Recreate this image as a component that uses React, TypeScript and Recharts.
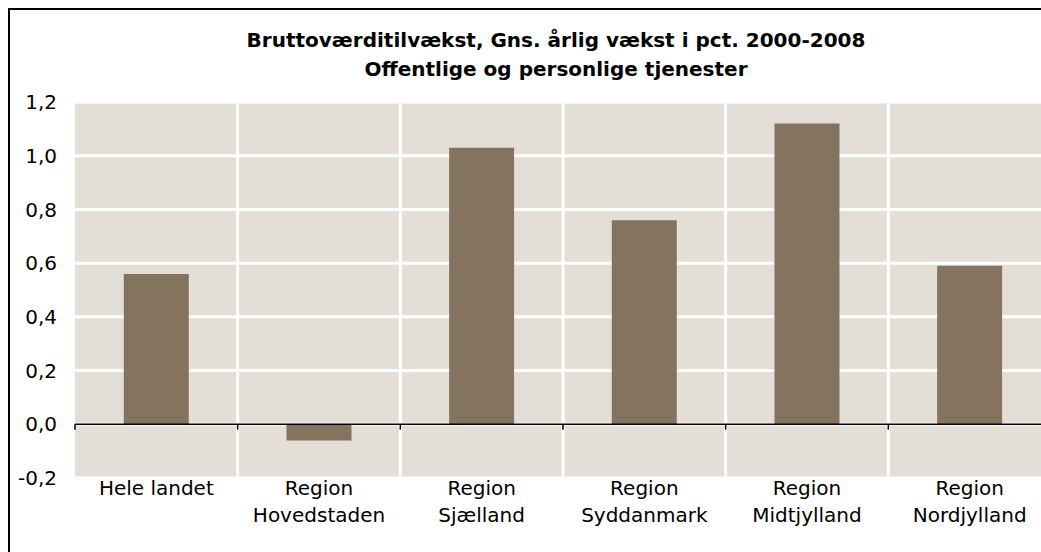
import React from "react";
import {
  BarChart,
  Bar,
  XAxis,
  YAxis,
  CartesianGrid,
  ReferenceLine,
} from "recharts";

/* =======================
   Data
======================= */
const categories = [
  "Hele landet",
  "Region\nHovedstaden",
  "Region\nSjælland",
  "Region\nSyddanmark",
  "Region\nMidtjylland",
  "Region\nNordjylland",
];
const growth = [0.56, -0.06, 1.03, 0.76, 1.12, 0.59];
const yTicks = [-0.2, 0, 0.2, 0.4, 0.6, 0.8, 1.0, 1.2];
const boundaries = [0, 1, 2, 3, 4, 5, 6];

const titleLines = [
  "Bruttoværditilvækst, Gns. årlig vækst i pct. 2000-2008",
  "Offentlige og personlige tjenester",
];

const chartData = categories.map((name, i) => ({
  name,
  value: growth[i],
  pos: i + 0.5,
}));

const FONT = "'DejaVu Sans', Verdana, sans-serif";

/* =======================
   Category tick (two lines)
======================= */
const CategoryTick = (props: any) => {
  const { x, y, payload } = props;
  const lines = String(payload.value).split("\n");
  return (
    <g>
      {lines.map((line, i) => (
        <text
          key={i}
          x={x}
          y={y + 15 + i * 27}
          textAnchor="middle"
          fontFamily={FONT}
          fontSize={20}
          fill="#000"
        >
          {line}
        </text>
      ))}
    </g>
  );
};

/* =======================
   Component
======================= */
export default function App() {
  return (
    <div
      style={{
        position: "fixed",
        left: 8,
        top: 8,
        width: 1031,
        height: 542,
        borderLeft: "2px solid #000",
        borderTop: "2px solid #000",
        overflow: "hidden",
        background: "#fff",
      }}
    >
      <div
        style={{
          position: "absolute",
          left: 546,
          top: 16,
          transform: "translateX(-50%)",
          whiteSpace: "nowrap",
          textAlign: "center",
          fontFamily: FONT,
          fontWeight: "bold",
          fontSize: 20,
          lineHeight: "29px",
          color: "#000",
        }}
      >
        {titleLines.map((t) => (
          <div key={t}>{t}</div>
        ))}
      </div>

      <BarChart
        width={1045}
        height={542}
        data={chartData}
        margin={{ top: 92, right: 4, left: 0, bottom: 0 }}
        barCategoryGap="30%"
      >
        <CartesianGrid
          vertical={false}
          stroke="#fff"
          strokeWidth={3}
          fill="#E3DFD6"
          fillOpacity={1}
        />
        <XAxis
          dataKey="name"
          height={74}
          axisLine={false}
          tickLine={false}
          tickSize={0}
          interval={0}
          tick={<CategoryTick />}
        />
        <XAxis
          xAxisId="num"
          dataKey="pos"
          type="number"
          domain={[0, 6]}
          hide
        />
        <YAxis
          width={65}
          domain={[-0.2, 1.2]}
          ticks={yTicks}
          interval={0}
          axisLine={false}
          tickLine={false}
          tickSize={0}
          tickMargin={18}
          tickFormatter={(v: number) => v.toFixed(1).replace(".", ",")}
          tick={{ fontFamily: FONT, fontSize: 20, fill: "#000" }}
        />
        {boundaries.slice(1, -1).map((b) => (
          <ReferenceLine
            key={"g" + b}
            xAxisId="num"
            x={b}
            stroke="#fff"
            strokeWidth={3}
          />
        ))}
        <Bar dataKey="value" fill="#84735F" isAnimationActive={false} />
        <ReferenceLine y={0} stroke="#000" strokeWidth={1.5} />
        {boundaries.map((b) => (
          <ReferenceLine
            key={"t" + b}
            xAxisId="num"
            segment={[
              { x: b, y: 0 },
              { x: b, y: -0.02 },
            ]}
            stroke="#000"
            strokeWidth={1.5}
          />
        ))}
      </BarChart>
    </div>
  );
}
